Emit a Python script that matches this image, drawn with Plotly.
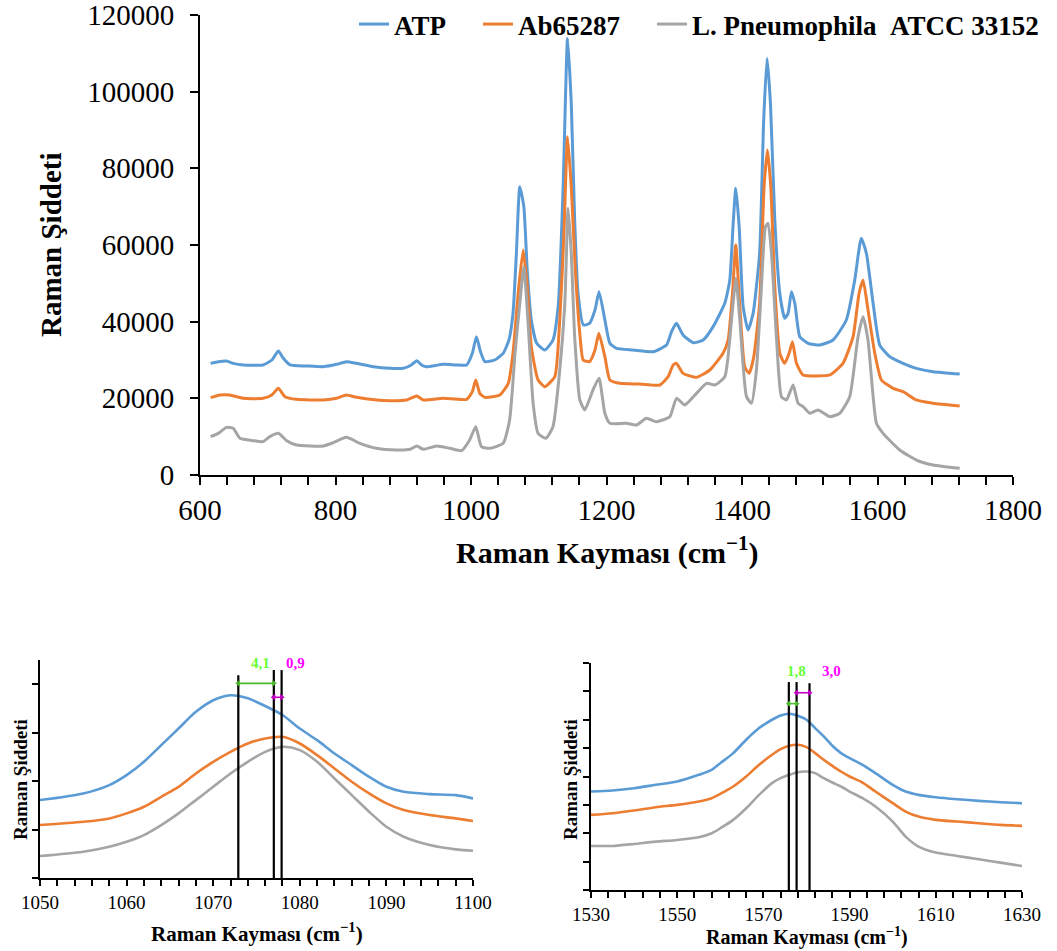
import plotly.graph_objects as go

# ---------------- spectra (Raman shift, intensity) ----------------
series_names = ["ATP", "Ab65287", "L. Pneumophila \u00a0ATCC 33152"]
series_colors = ["#5B9BD5", "#ED7D31", "#A5A5A5"]

atp_shift = [615.7, 627, 639, 649, 664, 693, 706, 715.6, 723, 733, 757, 782, 801.6, 816, 831,
             856, 880, 900, 912, 920, 927, 934, 959, 978.7, 993.5, 1002, 1008, 1014, 1020.5,
             1035, 1047.5, 1056, 1062, 1067, 1072, 1078, 1083, 1089, 1097, 1109, 1121, 1129,
             1136, 1142.5, 1148, 1153, 1158, 1166, 1175, 1183, 1189, 1197.6, 1205, 1214.8,
             1239.4, 1269, 1288.6, 1296, 1303.3, 1313, 1328, 1342.7, 1357.4, 1374.6, 1382,
             1387, 1390.8, 1395.8, 1401.7, 1409, 1416.4, 1426, 1432, 1437, 1442, 1448.4,
             1455.8, 1463, 1468, 1473, 1478, 1485.3, 1497.6, 1514.8, 1534.4, 1554, 1566.4,
             1576, 1583.6, 1593.5, 1603.3, 1618, 1637.7, 1657.4, 1682, 1721.3]
atp_int = [29130, 29570, 29740, 29130, 28700, 28700, 30000, 32350, 30440, 28700, 28440, 28260,
           28870, 29570, 29130, 28260, 27830, 27830, 28700, 29830, 28700, 28260, 28870, 28700,
           28700, 31740, 36090, 32170, 29570, 30000, 31740, 35220, 42170, 57830, 75220, 70000,
           53480, 40440, 34350, 32610, 35220, 44780, 75220, 113900, 96960, 66520, 47390, 39130,
           39570, 43040, 47830, 40440, 34350, 33040, 32610, 32170, 33910, 37390, 39570, 36520,
           34520, 35220, 38700, 44780, 50870, 65660, 74790, 64790, 43910, 37830, 42170, 57830,
           92610, 108700, 96960, 66520, 47390, 40870, 42170, 47830, 44780, 36090, 34350, 33910,
           35220, 40440, 50870, 61740, 57830, 44780, 33910, 30870, 29130, 27830, 26960, 26350]

ab_shift = [615.7, 629.5, 644, 664, 693, 706, 715.6, 725.4, 742.6, 782, 801.6, 816, 831, 860.6,
            880, 905, 920, 929.5, 959, 993.5, 1002, 1007, 1013, 1020.5, 1042.6, 1055, 1062,
            1069.6, 1077, 1083, 1089, 1099, 1109, 1123.7, 1131, 1137, 1142.5, 1148, 1154,
            1160.6, 1165.6, 1175, 1183, 1188.7, 1197.6, 1205, 1219.7, 1249, 1278.7, 1291,
            1298.4, 1303.3, 1313, 1332.8, 1352.5, 1372, 1379.5, 1386, 1390.8, 1396.8, 1404,
            1410.5, 1417.4, 1426, 1432.6, 1437.6, 1442.5, 1448.4, 1455.8, 1463, 1469.5, 1474.5,
            1480.4, 1490, 1510, 1529.5, 1549, 1564, 1572.8, 1578.7, 1586, 1596, 1605.8, 1623,
            1637.7, 1657.4, 1682, 1721.3]
ab_int = [20170, 20870, 20870, 20000, 20000, 20870, 22610, 20440, 19740, 19570, 20000, 20870,
          20260, 19570, 19390, 19570, 20610, 19570, 20000, 19740, 21740, 24780, 21300, 20260,
          20870, 23910, 31740, 47390, 58700, 49130, 33480, 24780, 23040, 25650, 40440, 62170,
          88260, 75220, 53480, 36960, 30000, 29570, 32610, 36960, 30870, 24780, 23910, 23740,
          23480, 25650, 28700, 29130, 26520, 25480, 27390, 31740, 35220, 47390, 60000, 43910,
          28260, 26520, 30870, 44780, 75220, 84780, 75220, 49130, 31740, 29130, 31740, 34780,
          29130, 26090, 25830, 26090, 29130, 36090, 47390, 50870, 43040, 31740, 24780, 22610,
          21740, 19570, 18700, 18000]

lp_shift = [615.7, 627, 639, 649, 659, 678.7, 693, 703, 715.6, 728, 742.6, 782, 796.7, 816, 836,
            860.6, 890, 910, 920, 929.5, 949, 968.8, 986, 998, 1007, 1015.5, 1028, 1047.5, 1057,
            1065, 1072, 1078, 1084, 1091.7, 1099, 1110.5, 1121, 1131, 1138.5, 1143.4, 1148,
            1153, 1160.6, 1168, 1180, 1189, 1197.6, 1205, 1229.5, 1244.3, 1259, 1273.8, 1293.5,
            1303.3, 1315.6, 1332.8, 1347.6, 1360, 1374.6, 1384.5, 1391, 1396.8, 1406.6, 1414,
            1421.3, 1428.7, 1434.6, 1438.5, 1443.5, 1450.8, 1458.2, 1465.6, 1475.4, 1482.8,
            1490.2, 1500, 1512.3, 1529.5, 1544.3, 1559, 1571.3, 1578.7, 1586, 1598.4, 1608.2,
            1632.8, 1657.4, 1682, 1721.3]
lp_int = [10000, 10870, 12430, 12170, 9570, 8960, 8700, 10000, 10870, 8960, 7830, 7570, 8440,
          9830, 8260, 6960, 6520, 6700, 7570, 6700, 7570, 6960, 6350, 9130, 12610, 7390, 6960,
          8260, 14350, 31740, 44780, 54350, 40440, 18700, 10870, 9570, 12610, 27390, 44780,
          69570, 57830, 36090, 19570, 16960, 22170, 25220, 16090, 13480, 13480, 13040, 14780,
          13910, 15220, 20000, 18260, 21300, 23910, 23480, 25650, 40440, 51310, 40440, 20440,
          18700, 27390, 49130, 64790, 65650, 57830, 36090, 20440, 19570, 23480, 18700, 17830,
          16090, 16960, 15220, 16090, 20440, 36090, 41300, 35220, 13480, 10870, 6520, 3910,
          2610, 1740]

# ---------------- detail: 1050-1100 cm-1 band ----------------
zoom1_shift = [1050, 1055, 1058, 1060, 1062, 1064, 1066, 1068, 1070, 1072, 1074, 1076, 1078,
               1080, 1082, 1084, 1086, 1088, 1090, 1092, 1095, 1098, 1100]
zoom1_atp = [32170, 34900, 38350, 42470, 47970, 54850, 61720, 68590, 73400, 75460, 74200,
             71000, 67300, 61720, 56900, 51400, 46600, 41770, 37650, 35590, 34640, 34230, 32860]
zoom1_ab = [21850, 23220, 24600, 26680, 29400, 33530, 37650, 43160, 47970, 52090, 55530, 57600,
            58280, 55530, 50720, 45230, 39730, 34920, 30800, 28040, 25980, 24600, 23500]
zoom1_lp = [9070, 10850, 12910, 14970, 17730, 21850, 26680, 32160, 37650, 43160, 47970, 52090,
            54150, 52780, 47970, 41090, 34230, 27370, 21160, 17030, 13610, 11830, 11260]
zoom1_peak_atp = 1072.9
zoom1_shifts = [4.1, 0.9]
zoom1_shift_labels = ["4,1", "0,9"]

# ---------------- detail: 1530-1630 cm-1 band ----------------
zoom2_shift = [1530, 1535, 1540, 1545, 1550, 1555, 1558, 1560, 1563, 1566, 1569, 1572, 1574,
               1576, 1578, 1580, 1582, 1584, 1586, 1588, 1590, 1593, 1596, 1600, 1603, 1606,
               1610, 1615, 1620, 1625, 1630]
zoom2_atp = [34700, 35060, 35880, 37060, 38240, 40590, 42350, 44700, 48240, 52940, 57060, 60000,
             61530, 62120, 61410, 60000, 57060, 54120, 50820, 48240, 46470, 44120, 41180, 37060,
             34700, 33530, 32710, 32000, 31410, 30940, 30590]
zoom2_ab = [26470, 27060, 28000, 29180, 30000, 31180, 32350, 33880, 36470, 40000, 44120, 47650,
            49650, 50820, 51180, 50350, 48240, 45880, 43760, 41760, 40000, 37880, 34700, 30590,
            27650, 25880, 24710, 24120, 23530, 22940, 22590]
zoom2_lp = [15530, 15530, 16240, 17060, 17650, 18590, 20000, 21760, 24710, 28820, 33530, 37650,
            39410, 40590, 41530, 41760, 41180, 39410, 37880, 36470, 34700, 32350, 29410, 24120,
            18820, 15290, 13180, 12000, 10820, 9650, 8470]
zoom2_peak_atp = 1575.9
zoom2_shifts = [1.8, 3.0]
zoom2_shift_labels = ["1,8", "3,0"]

# ---------------- styling ----------------
W, H = 1057, 951
SERIF = "Liberation Serif"
SHIFT_TEXT = ["#66FF33", "#FF00FF"]
SHIFT_ARROW = ["#4CB82E", "#C000C0"]
NBSP = "\u00a0"


def px_x(p):
    return p / W


def px_y(p):
    return 1 - p / H


def tick_spec(lo, hi, minor_step, label_step):
    """Every minor step gets a tick; only multiples of label_step carry text."""
    n = int(round((hi - lo) / minor_step))
    vals = [lo + i * minor_step for i in range(n + 1)]
    text = [str(int(v)) if int(round(v - lo)) % label_step == 0 else "" for v in vals]
    return vals, text


fig = go.Figure()

main_sets = [(atp_shift, atp_int), (ab_shift, ab_int), (lp_shift, lp_int)]
pads = [NBSP * 4, NBSP * 4, ""]
for name, color, (sx, sy), pad in zip(series_names, series_colors, main_sets, pads):
    fig.add_trace(go.Scatter(x=sx, y=sy, mode="lines", name=f"<b>{name}{pad}</b>",
                             line=dict(color=color, width=3, shape="spline", smoothing=0.5),
                             xaxis="x", yaxis="y"))

for sy, color in zip([zoom1_atp, zoom1_ab, zoom1_lp], series_colors):
    fig.add_trace(go.Scatter(x=zoom1_shift, y=sy, mode="lines", showlegend=False,
                             line=dict(color=color, width=2.6, shape="spline", smoothing=0.8),
                             xaxis="x2", yaxis="y2"))

for sy, color in zip([zoom2_atp, zoom2_ab, zoom2_lp], series_colors):
    fig.add_trace(go.Scatter(x=zoom2_shift, y=sy, mode="lines", showlegend=False,
                             line=dict(color=color, width=2.6, shape="spline", smoothing=0.8),
                             xaxis="x3", yaxis="y3"))


def peak_markers(xa, ya, ymax, peak0, shifts, labels, line_tops, arrow_fracs, label_frac,
                 label_xshift):
    """Vertical peak markers plus double-headed arrows showing the shift between them."""
    positions = [peak0]
    for s in shifts:
        positions.append(positions[-1] + s)
    for pos, top in zip(positions, line_tops):
        fig.add_trace(go.Scatter(x=[pos, pos], y=[0, top * ymax], mode="lines",
                                 showlegend=False, hoverinfo="skip",
                                 line=dict(color="black", width=2.2), xaxis=xa, yaxis=ya))
    for i, lab in enumerate(labels):
        a, b = positions[i], positions[i + 1]
        yy = arrow_fracs[i] * ymax
        fig.add_trace(go.Scatter(x=[a, b], y=[yy, yy], mode="lines+markers", showlegend=False,
                                 hoverinfo="skip", line=dict(color=SHIFT_ARROW[i], width=1.6),
                                 marker=dict(symbol=["triangle-left", "triangle-right"], size=6,
                                             color=SHIFT_ARROW[i]),
                                 xaxis=xa, yaxis=ya))
        fig.add_annotation(x=(a + b) / 2, y=label_frac * ymax, xref=xa, yref=ya,
                           text=f"<b>{lab}</b>", xanchor="center", yanchor="middle",
                           showarrow=False, xshift=label_xshift[i],
                           font=dict(size=15, color=SHIFT_TEXT[i]))


peak_markers("x2", "y2", 90000, zoom1_peak_atp, zoom1_shifts, zoom1_shift_labels,
             line_tops=[0.93, 0.954, 0.954], arrow_fracs=[0.893, 0.829], label_frac=0.985,
             label_xshift=[4, 18])
peak_markers("x3", "y3", 80000, zoom2_peak_atp, zoom2_shifts, zoom2_shift_labels,
             line_tops=[0.916, 0.916, 0.911], arrow_fracs=[0.821, 0.869], label_frac=0.963,
             label_xshift=[4, 28])

axis_common = dict(showline=True, linecolor="black", linewidth=2, ticks="outside",
                   tickcolor="black", tickwidth=2, showgrid=False, zeroline=False,
                   automargin=False, layer="above traces", ticklabeloverflow="allow")

main_xv, main_xt = tick_spec(600, 1800, 40, 200)
z1_xv, z1_xt = tick_spec(1050, 1100, 2, 10)
z2_xv, z2_xt = tick_spec(1530, 1630, 4, 20)

fig.update_layout(
    width=W, height=H, autosize=False,
    margin=dict(l=0, r=0, t=0, b=0),
    paper_bgcolor="white", plot_bgcolor="white",
    font=dict(family=SERIF, color="black"),
    showlegend=True,
    # legend box kept fully inside the page so it does not enlarge the top margin
    legend=dict(orientation="h", x=px_x(1044), xanchor="right", y=1, yanchor="top",
                font=dict(family=SERIF, size=27, color="black"), bgcolor="rgba(0,0,0,0)",
                tracegroupgap=0),
    xaxis=dict(**axis_common, domain=[px_x(200), px_x(1013)], range=[600, 1800],
               tickmode="array", tickvals=main_xv, ticktext=main_xt,
               ticklen=8, tickfont=dict(size=29), anchor="y"),
    yaxis=dict(**axis_common, domain=[px_y(475), px_y(15)], range=[0, 120000], dtick=20000,
               ticklen=8, tickformat="d", tickfont=dict(size=29), ticklabelstandoff=10,
               anchor="x"),
    xaxis2=dict(**axis_common, domain=[px_x(40), px_x(473)], range=[1050, 1100],
                tickmode="array", tickvals=z1_xv, ticktext=z1_xt,
                ticklen=6, tickfont=dict(size=19), anchor="y2"),
    yaxis2=dict(**axis_common, domain=[px_y(878), px_y(660)], range=[0, 90000], dtick=20000,
                ticklen=6, showticklabels=False, anchor="x2"),
    xaxis3=dict(**axis_common, domain=[px_x(591), px_x(1022)], range=[1530, 1630],
                tickmode="array", tickvals=z2_xv, ticktext=z2_xt,
                ticklen=6, tickfont=dict(size=19), anchor="y3"),
    yaxis3=dict(**axis_common, domain=[px_y(890), px_y(663)], range=[0, 80000], dtick=10000,
                ticklen=6, showticklabels=False, anchor="x3"),
)

# axis titles
title_main = "<b>Raman Kayması (cm<sup>−1</sup>)</b>"
title_int = "<b>Raman Şiddeti</b>"
titles = [
    (title_main, 607, 550, 0, 30),
    (title_int, 51, 245, -90, 29),
    (title_main, 257, 932, 0, 21),
    (title_int, 20, 780, -90, 19),
    (title_main, 807, 936, 0, 20),
    (title_int, 570, 780, -90, 19),
]
for text, tx, ty, ang, size in titles:
    fig.add_annotation(text=text, x=px_x(tx), y=px_y(ty), xref="paper", yref="paper",
                       xanchor="center", yanchor="middle", showarrow=False, textangle=ang,
                       font=dict(size=size))

fig.write_html("out.html")
